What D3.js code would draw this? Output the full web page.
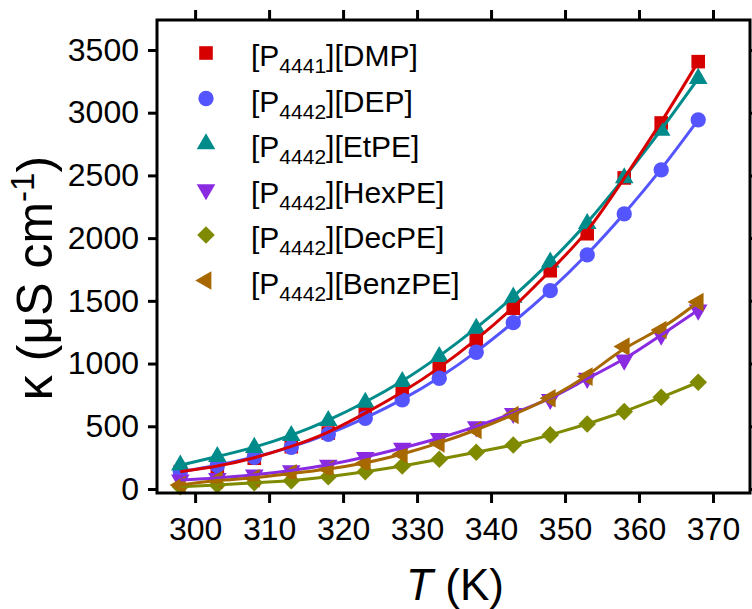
<!DOCTYPE html>
<html>
<meta charset="utf-8">
<title>conductivity vs temperature</title>

<style>
html,body{
  margin:0;
  background:#fff;
}
svg {
  background-color: #fff;
  font-family: "Liberation Sans", Arial, sans-serif;
}
</style>
<script src="https://cdn.jsdelivr.net/npm/d3@7/dist/d3.min.js"></script>

<body>
<script>

// temperatures (K)
var temps = [298, 303, 308, 313, 318, 323, 328, 333, 338, 343, 348, 353, 358, 363, 368];

// conductivity (uS cm-1) for each salt
var dmp   = [138, 178, 245, 337, 446, 603, 768, 962, 1188, 1441, 1740, 2035, 2480, 2918, 3407];
var dep   = [138, 186, 253, 332, 436, 564, 710, 883, 1090, 1326, 1581, 1866, 2193, 2544, 2943];
var etpe  = [190, 258, 330, 425, 545, 690, 855, 1055, 1280, 1528, 1808, 2115, 2480, 2860, 3272];
var hexpe = [72, 85, 112, 146, 191, 253, 325, 404, 497, 603, 715, 883, 1029, 1228, 1427];
var decpe = [18, 32, 50, 66, 98, 138, 183, 237, 293, 351, 431, 518, 617, 731, 851];
var benzpe = [32, 72, 85, 125, 157, 205, 277, 364, 470, 590, 723, 896, 1135, 1268, 1490];

var yTicks = [0, 500, 1000, 1500, 2000, 2500, 3000, 3500];
var xTicks = [300, 310, 320, 330, 340, 350, 360, 370];

var series = [
  {cat: "4441", anion: "DMP",    vals: dmp,    color: "#d60000", shape: "square"},
  {cat: "4442", anion: "DEP",    vals: dep,    color: "#5555ff", shape: "circle"},
  {cat: "4442", anion: "EtPE",   vals: etpe,   color: "#008b8b", shape: "up"},
  {cat: "4442", anion: "HexPE",  vals: hexpe,  color: "#8a2be2", shape: "down"},
  {cat: "4442", anion: "DecPE",  vals: decpe,  color: "#7f8a00", shape: "diamond", straight: true},
  {cat: "4442", anion: "BenzPE", vals: benzpe, color: "#a86800", shape: "left"}
];

var width = 752, height = 609;
var plotL = 157, plotR = 750, plotT = 20, plotB = 493;

var x = d3.scaleLinear().domain([294.85, 375]).range([plotL, plotR]);
var y = d3.scaleLinear().domain([-32, 3739]).range([plotB, plotT]);

var svg = d3.select("body").append("svg")
    .attr("width", width)
    .attr("height", height);

// marker shapes
function symbolFor(shape) {
  if (shape == "square") return {t: d3.symbolSquare, s: 185, r: 0};
  if (shape == "circle") return {t: d3.symbolCircle, s: 185, r: 0};
  if (shape == "diamond") return {t: d3.symbolSquare, s: 155, r: 45};
  if (shape == "up") return {t: d3.symbolTriangle, s: 150, r: 0};
  if (shape == "down") return {t: d3.symbolTriangle, s: 150, r: 180};
  if (shape == "left") return {t: d3.symbolTriangle, s: 150, r: -90};
}

var plot = svg.append("g");
var markers = plot.append("g");
var lines = plot.append("g");

series.forEach(function(s) {
  var sym = symbolFor(s.shape);
  markers.append("g").selectAll("path")
      .data(s.vals)
    .enter().append("path")
      .attr("d", d3.symbol().type(sym.t).size(sym.s))
      .attr("transform", function(d, i) {
        return "translate(" + x(temps[i]) + "," + y(d) + ") rotate(" + sym.r + ")";
      })
      .attr("fill", s.color);
});

// lines drawn over the markers
var lineOrder = [2, 1, 0, 3, 4, 5];
lineOrder.forEach(function(k) {
  var s = series[k];
  var line = d3.line()
      .x(function(d, i) { return x(temps[i]); })
      .y(function(d) { return y(d); })
      .curve(s.straight ? d3.curveLinear : d3.curveBasis);
  lines.append("path")
      .datum(s.vals)
      .attr("d", line)
      .attr("fill", "none")
      .attr("stroke", s.color)
      .attr("stroke-width", 3);
});

// axes: labelled bottom/left, bare ticks on top/right
function styleAxis(g) {
  g.select(".domain").remove();
  g.selectAll(".tick line").attr("stroke", "#000").attr("stroke-width", 3);
  g.selectAll(".tick text").attr("fill", "#000").style("font-size", "32px")
      .style("font-family", "'Liberation Sans', Arial, sans-serif");
}

svg.append("g")
    .attr("transform", "translate(0," + plotB + ")")
    .call(d3.axisBottom(x).tickValues(xTicks).tickSize(10).tickPadding(14).tickFormat(d3.format("d")))
    .call(styleAxis);

svg.append("g")
    .attr("transform", "translate(0," + plotT + ")")
    .call(d3.axisTop(x).tickValues(xTicks).tickSize(10).tickFormat(""))
    .call(styleAxis);

svg.append("g")
    .attr("transform", "translate(" + plotL + ",0)")
    .call(d3.axisLeft(y).tickValues(yTicks).tickSize(9).tickPadding(9).tickFormat(d3.format("d")))
    .call(styleAxis);

svg.append("g")
    .attr("transform", "translate(" + plotR + ",0)")
    .call(d3.axisRight(y).tickValues(yTicks).tickSize(9).tickFormat(""))
    .call(styleAxis);

svg.append("rect")
    .attr("x", plotL)
    .attr("y", plotT)
    .attr("width", plotR - plotL)
    .attr("height", plotB - plotT)
    .attr("fill", "none")
    .attr("stroke", "#000")
    .attr("stroke-width", 3);

// legend
var legend = svg.append("g");
series.forEach(function(s, i) {
  var ly = 53 + i * 45.5;
  var sym = symbolFor(s.shape);
  legend.append("path")
      .attr("d", d3.symbol().type(sym.t).size(sym.s))
      .attr("transform", "translate(206," + ly + ") rotate(" + sym.r + ")")
      .attr("fill", s.color);
  var t = legend.append("text")
      .attr("x", 251)
      .attr("y", ly + 13)
      .style("font-size", "30px")
      .attr("fill", "#000");
  t.append("tspan").text("[P");
  t.append("tspan").attr("dy", 7).style("font-size", "21px").text(s.cat);
  t.append("tspan").attr("dy", -7).text("][" + s.anion + "]");
});

// axis titles
var xt = svg.append("text")
    .attr("x", 455)
    .attr("y", 600)
    .attr("text-anchor", "middle")
    .style("font-size", "44px")
    .attr("fill", "#000");
xt.append("tspan").style("font-style", "italic").text("T");
xt.append("tspan").text(" (K)");

var yt = svg.append("text")
    .attr("transform", "translate(52,278) rotate(-90)")
    .attr("text-anchor", "middle")
    .style("font-size", "50px")
    .attr("fill", "#000");
yt.append("tspan").text("\u03ba (\u03bcS cm");
yt.append("tspan").attr("dy", -18).style("font-size", "33px").text("-1");
yt.append("tspan").attr("dy", 18).text(")");

</script>
</body>
</html>
